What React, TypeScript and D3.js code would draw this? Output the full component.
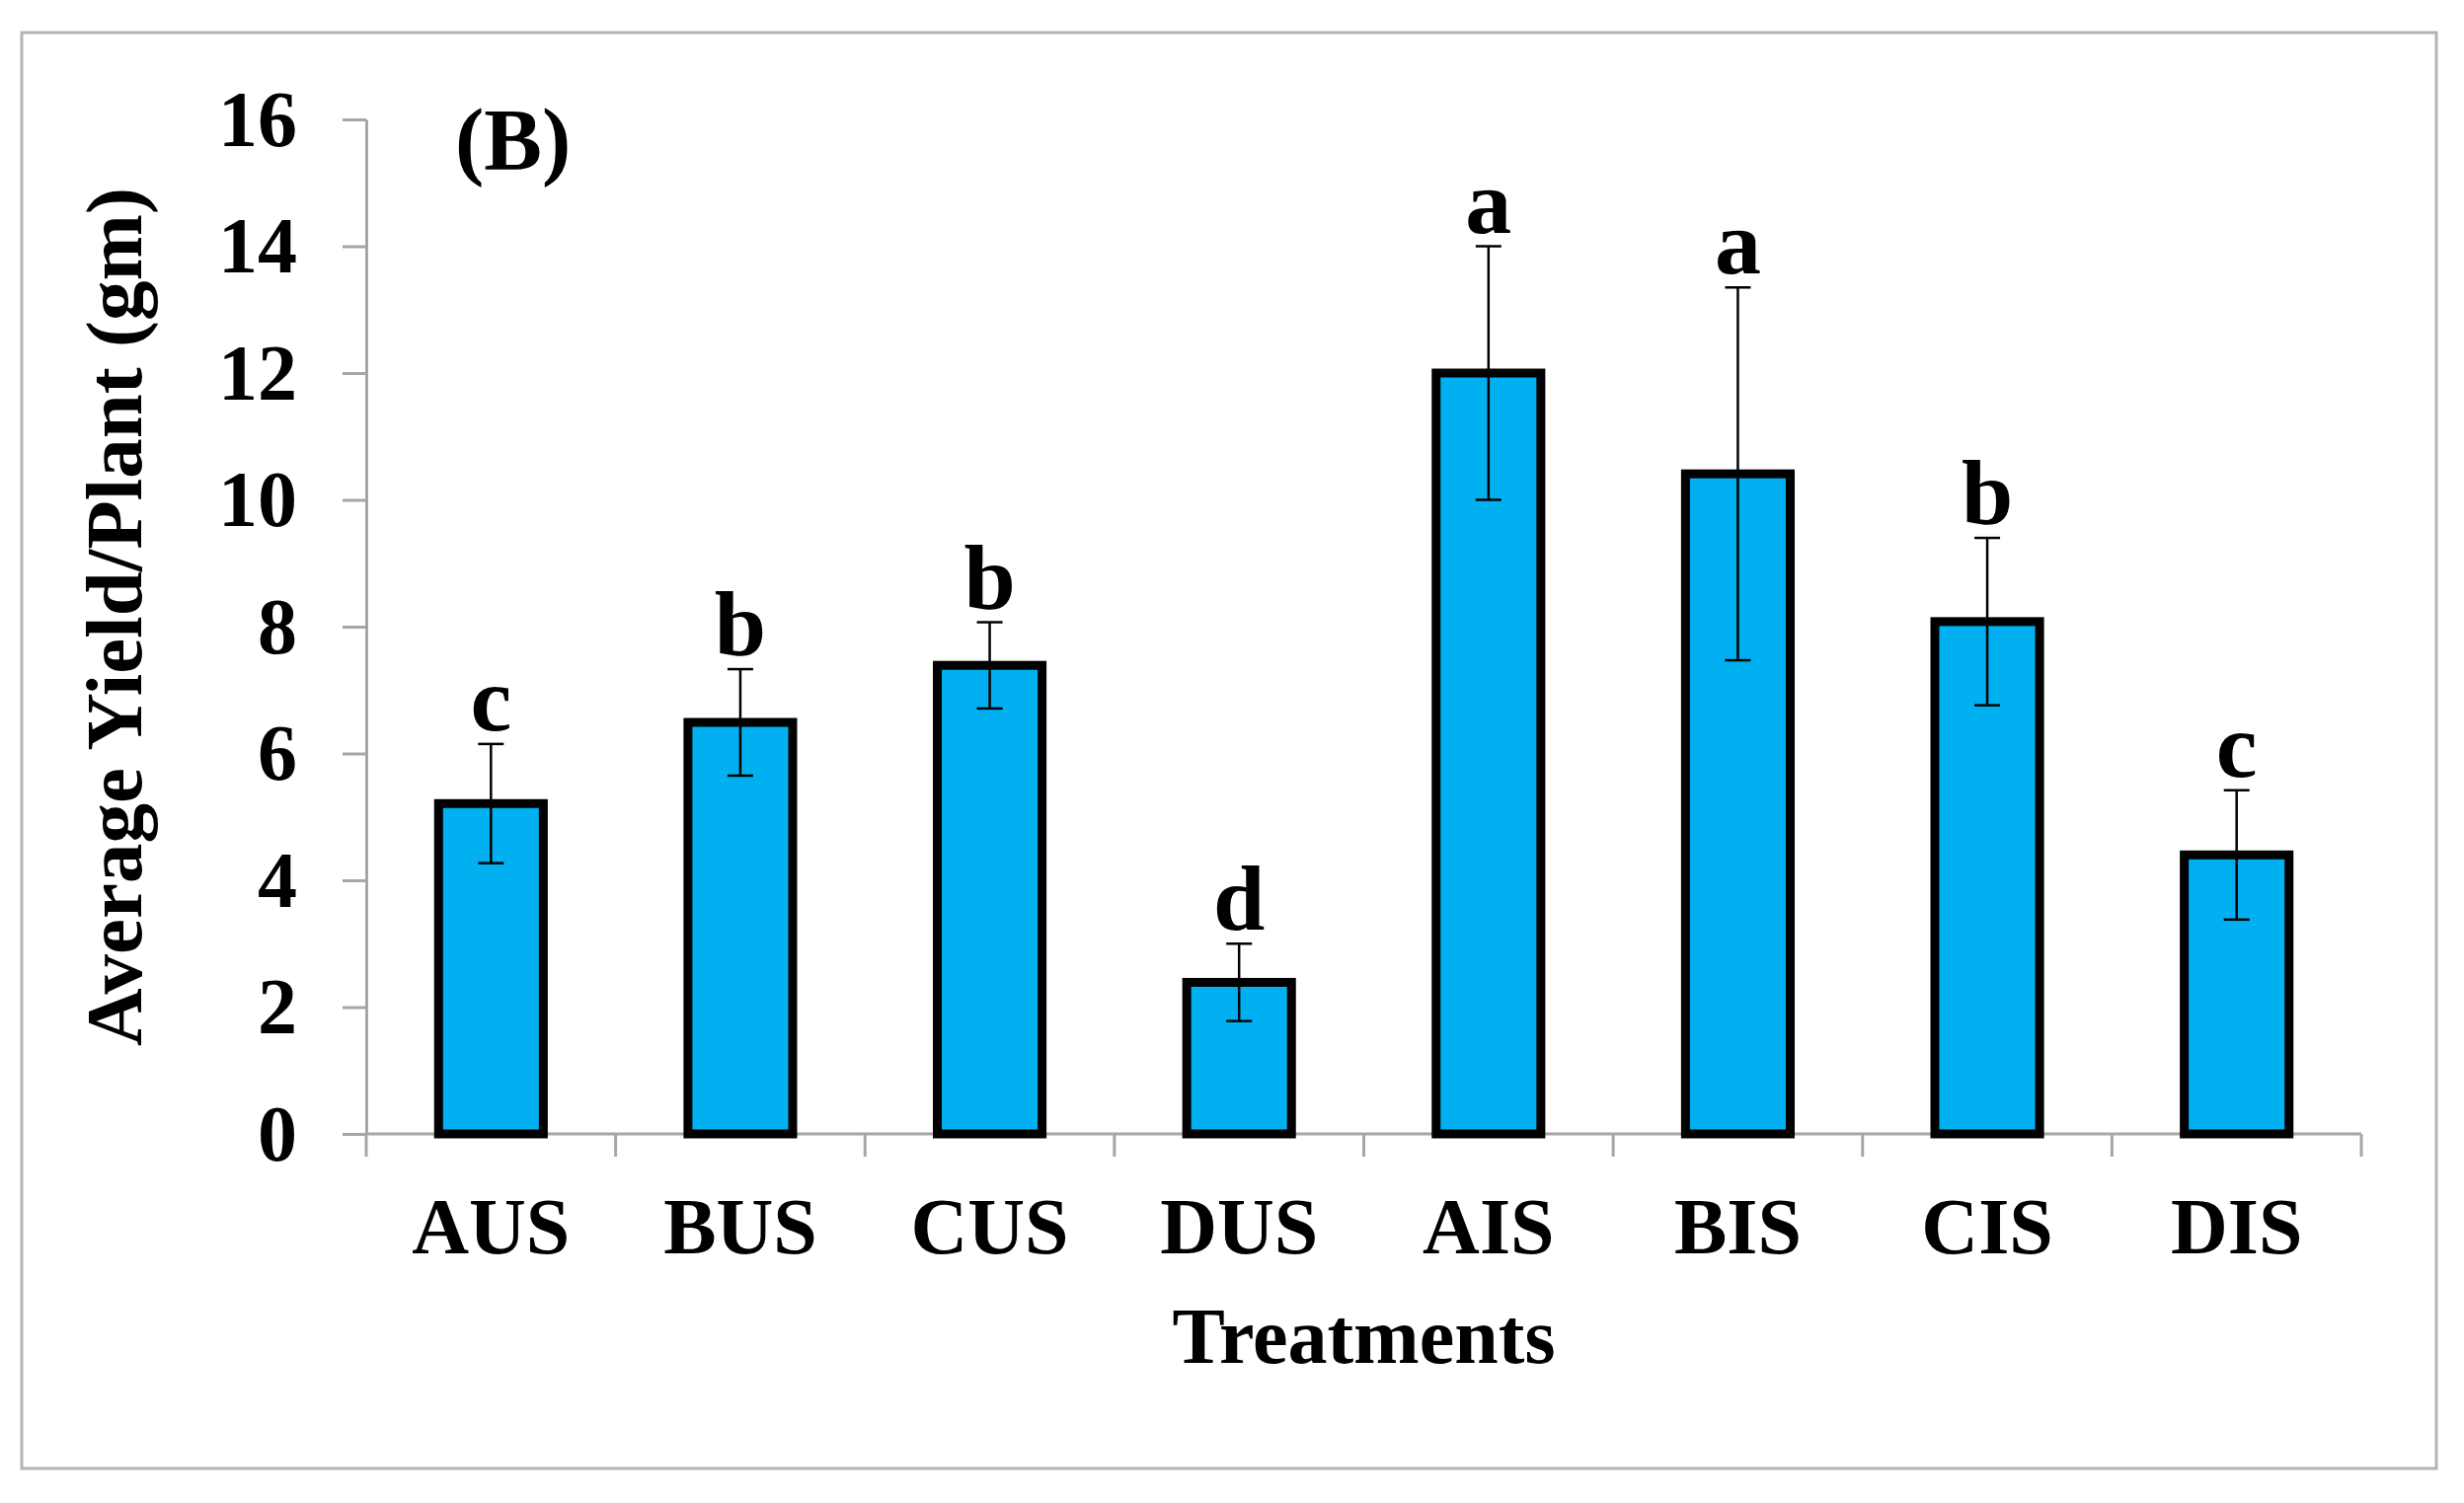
// @ts-nocheck
import { useRef, useEffect } from "react";
import * as d3 from "d3";

const treatments = ["AUS", "BUS", "CUS", "DUS", "AIS", "BIS", "CIS", "DIS"];
const means = [5.21, 6.49, 7.39, 2.39, 12.0, 10.41, 8.08, 4.4];
const errors = [0.94, 0.84, 0.68, 0.61, 2.0, 2.94, 1.32, 1.02];
const letters = ["c", "b", "b", "d", "a", "a", "b", "c"];
const yTicks = [0, 2, 4, 6, 8, 10, 12, 14, 16];

const W = 2496;
const H = 1523;
const FONT = "'Liberation Serif', 'Times New Roman', serif";

const BarChart = () => {
  const ref = useRef(null);

  useEffect(() => {
    document.body.style.margin = "0";
    const svg = d3.select(ref.current);
    svg.selectAll("*").remove();

    const left = 371, right = 2392, top = 121, bottom = 1149;

    const x = d3.scaleBand().domain(treatments).range([left, right]).paddingInner(0.58).paddingOuter(0.29);
    const band = d3.scaleBand().domain(treatments).range([left, right]);
    const y = d3.scaleLinear().domain([0, 16]).range([bottom, top]);

    svg.append("rect")
      .attr("x", 0).attr("y", 0).attr("width", W).attr("height", H)
      .attr("fill", "#fff");

    // outer frame
    svg.append("rect")
      .attr("x", 22).attr("y", 33).attr("width", 2446).attr("height", 1455)
      .attr("fill", "none").attr("stroke", "#b3b3b3").attr("stroke-width", 3);

    // y axis
    const yAxis = svg.append("g")
      .attr("transform", `translate(${left},0)`)
      .call(d3.axisLeft(y).tickValues(yTicks).tickSize(24).tickPadding(46).tickSizeOuter(0));
    yAxis.select(".domain").attr("stroke", "#a6a6a6").attr("stroke-width", 3);
    yAxis.selectAll(".tick line").attr("stroke", "#a6a6a6").attr("stroke-width", 3);
    yAxis.selectAll(".tick text")
      .attr("font-family", FONT).attr("font-weight", "bold").attr("font-size", 80)
      .attr("fill", "#000").attr("dy", "0.33em");

    // x axis line + band ticks
    svg.append("line")
      .attr("x1", left).attr("x2", right).attr("y1", bottom).attr("y2", bottom)
      .attr("stroke", "#a6a6a6").attr("stroke-width", 3);
    const edges = treatments.map((t) => band(t)).concat([right]);
    svg.selectAll(".xtick").data(edges).enter().append("line")
      .attr("x1", (d) => d).attr("x2", (d) => d)
      .attr("y1", bottom).attr("y2", bottom + 23)
      .attr("stroke", "#a6a6a6").attr("stroke-width", 3);

    svg.selectAll(".xlabel").data(treatments).enter().append("text")
      .attr("x", (d) => band(d) + band.bandwidth() / 2)
      .attr("y", 1270)
      .attr("text-anchor", "middle")
      .attr("font-family", FONT).attr("font-weight", "bold").attr("font-size", 80)
      .text((d) => d);

    // bars
    svg.selectAll(".bar").data(treatments).enter().append("rect")
      .attr("x", (d) => x(d))
      .attr("width", x.bandwidth())
      .attr("y", (d, i) => y(means[i]))
      .attr("height", (d, i) => bottom - y(means[i]))
      .attr("fill", "#00b0f0").attr("stroke", "#000").attr("stroke-width", 9);

    // error bars
    const cap = 13;
    treatments.forEach((t, i) => {
      const cx = band(t) + band.bandwidth() / 2;
      const hi = y(means[i] + errors[i]);
      const lo = y(means[i] - errors[i]);
      const g = svg.append("g").attr("stroke", "#000").attr("stroke-width", 2.5);
      g.append("line").attr("x1", cx).attr("x2", cx).attr("y1", hi).attr("y2", lo);
      g.append("line").attr("x1", cx - cap).attr("x2", cx + cap).attr("y1", hi).attr("y2", hi);
      g.append("line").attr("x1", cx - cap).attr("x2", cx + cap).attr("y1", lo).attr("y2", lo);
      svg.append("text")
        .attr("x", cx).attr("y", hi - 14)
        .attr("text-anchor", "middle")
        .attr("font-family", FONT).attr("font-weight", "bold").attr("font-size", 94)
        .text(letters[i]);
    });

    // panel label
    svg.append("text")
      .attr("x", 461).attr("y", 171)
      .attr("font-family", FONT).attr("font-weight", "bold").attr("font-size", 88)
      .text("(B)");

    // axis titles
    svg.append("text")
      .attr("transform", `translate(143,625) rotate(-90)`)
      .attr("text-anchor", "middle")
      .attr("font-family", FONT).attr("font-weight", "bold").attr("font-size", 81)
      .text("Average Yield/Plant (gm)");

    svg.append("text")
      .attr("x", (left + right) / 2).attr("y", 1381)
      .attr("text-anchor", "middle")
      .attr("font-family", FONT).attr("font-weight", "bold").attr("font-size", 80)
      .text("Treatments");
  }, []);

  return <svg ref={ref} width={W} height={H} style={{ display: "block" }}></svg>;
};

export default function App() {
  return <BarChart />;
}
